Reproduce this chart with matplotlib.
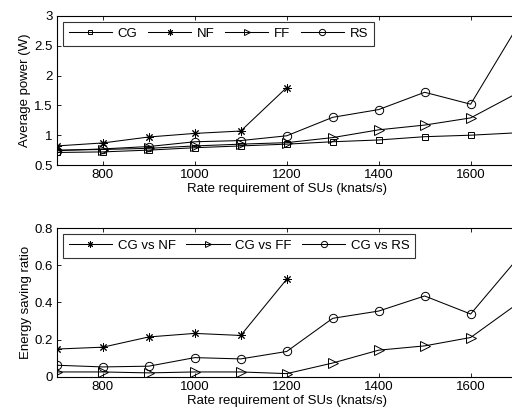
import matplotlib
matplotlib.use("Agg")
import matplotlib.pyplot as plt

plt.rcParams['font.family'] = ['Liberation Sans', 'DejaVu Sans']

rates = [700, 800, 900, 1000, 1100, 1200, 1300, 1400, 1500, 1600, 1700]
rates_nf = [700, 800, 900, 1000, 1100, 1200]

power_cg = [0.71, 0.72, 0.75, 0.79, 0.82, 0.85, 0.89, 0.92, 0.975, 1.00, 1.04]
power_nf = [0.82, 0.87, 0.97, 1.03, 1.07, 1.80]
power_ff = [0.75, 0.76, 0.78, 0.82, 0.85, 0.875, 0.96, 1.09, 1.17, 1.29, 1.70]
power_rs = [0.74, 0.77, 0.81, 0.89, 0.91, 0.99, 1.30, 1.43, 1.72, 1.52, 2.80]

ratio_nf = [0.15, 0.16, 0.215, 0.234, 0.223, 0.525]
ratio_ff = [0.027, 0.027, 0.022, 0.027, 0.027, 0.018, 0.075, 0.144, 0.167, 0.212, 0.39]
ratio_rs = [0.063, 0.054, 0.058, 0.104, 0.097, 0.137, 0.315, 0.354, 0.435, 0.338, 0.63]

xticks = [800, 1000, 1200, 1400, 1600]
fs = 9.5
lw = 0.75
ast = (8, 2, 0)

fig = plt.figure(figsize=(5.12, 4.12), dpi=100)
ax1 = fig.add_axes([0.111, 0.5995, 0.898, 0.3617])
ax2 = fig.add_axes([0.111, 0.085, 0.898, 0.3616])

mk = dict(color='black', lw=lw, mfc='none', mec='black', mew=0.7)
ax1.plot(rates, power_cg, marker='s', ms=4.2, label='CG', **mk)
ax1.plot(rates_nf, power_nf, marker=ast, ms=6, label='NF', **mk)
ax1.plot(rates, power_ff, marker='>', ms=6.5, label='FF', **mk)
ax1.plot(rates, power_rs, marker='o', ms=6, label='RS', **mk)
ax1.set_ylim(0.5, 3)
ax1.set_yticks([0.5, 1, 1.5, 2, 2.5, 3])
ax1.set_yticklabels(['0.5', '1', '1.5', '2', '2.5', '3'])
ax1.set_ylabel('Average power (W)', fontsize=fs, labelpad=2)

ax2.plot(rates_nf, ratio_nf, marker=ast, ms=6, label='CG vs NF', **mk)
ax2.plot(rates, ratio_ff, marker='>', ms=6.5, label='CG vs FF', **mk)
ax2.plot(rates, ratio_rs, marker='o', ms=6, label='CG vs RS', **mk)
ax2.set_ylim(0, 0.8)
ax2.set_yticks([0, 0.2, 0.4, 0.6, 0.8])
ax2.set_yticklabels(['0', '0.2', '0.4', '0.6', '0.8'])
ax2.set_ylabel('Energy saving ratio', fontsize=fs, labelpad=2)

for ax in (ax1, ax2):
    ax.set_xlim(700, 1700)
    ax.set_xticks(xticks)
    ax.set_xlabel('Rate requirement of SUs (knats/s)', fontsize=fs, labelpad=1)
    ax.tick_params(direction='in', top=True, right=True, labelsize=fs, length=3, width=0.6, pad=3)
    for s in ax.spines.values():
        s.set_linewidth(0.8)
    leg = ax.legend(loc='upper left', ncol=4, fontsize=fs, frameon=True, fancybox=False,
                    edgecolor='black', handlelength=3.3, handletextpad=0.4, columnspacing=0.8,
                    borderpad=0.45, borderaxespad=0.45, markerscale=0.75)
    leg.get_frame().set_linewidth(0.8)

fig.savefig('out.png', dpi=100)
